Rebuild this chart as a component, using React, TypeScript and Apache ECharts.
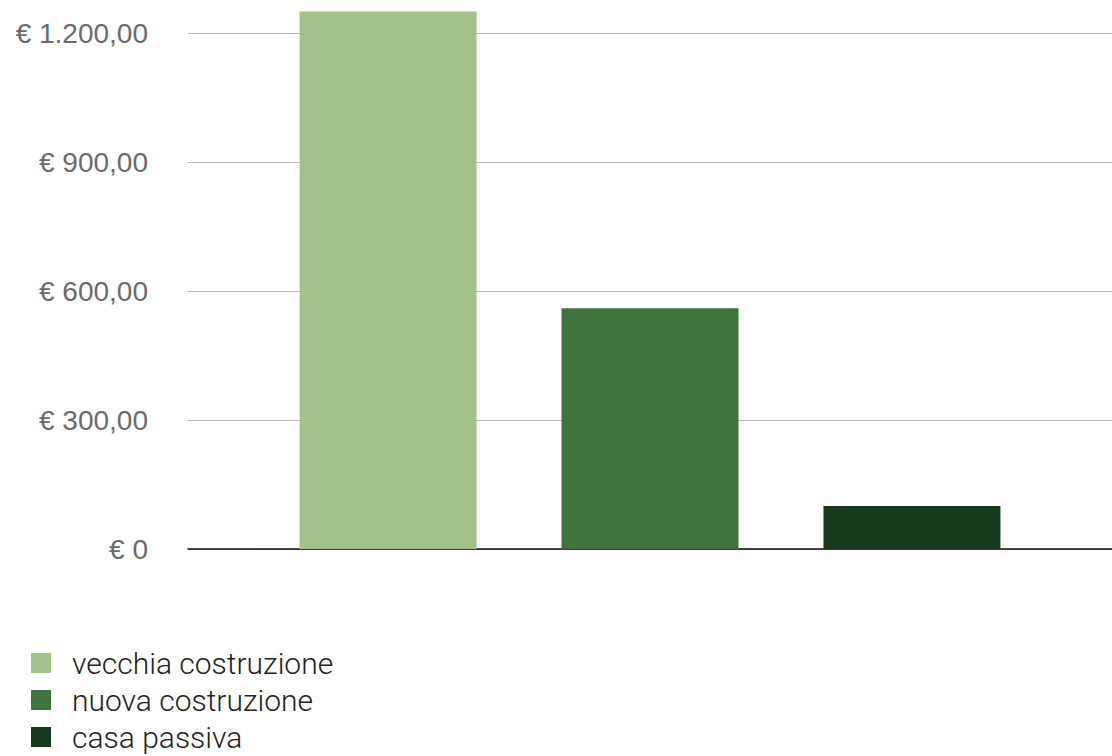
import React, { useEffect, useRef } from "react";
import * as echarts from "echarts";

const seriesNames = ["vecchia costruzione", "nuova costruzione", "casa passiva"];
const seriesValues = [1250, 560, 100];
const seriesColors = ["#a2c28a", "#3f753d", "#163a1e"];
const tickValues = [0, 300, 600, 900, 1200];

function formatEuro(v: number): string {
  if (v === 0) return "€ 0";
  const intPart = Math.floor(v).toString().replace(/\B(?=(\d{3})+(?!\d))/g, ".");
  return "€ " + intPart + ",00";
}

export default function App() {
  const ref = useRef<HTMLDivElement>(null);
  useEffect(() => {
    if (!ref.current) return;
    const chart = echarts.init(ref.current, undefined, { renderer: "svg" });
    chart.setOption({
      animation: false,
      backgroundColor: "#ffffff",
      grid: { left: 188, top: 33, width: 924, height: 516, containLabel: false },
      legend: {
        orient: "vertical",
        left: 31,
        top: 648,
        height: 200,
        padding: 0,
        itemWidth: 20,
        itemHeight: 20,
        itemGap: 7,
        icon: "rect",
        data: seriesNames.map((n, i) => ({ name: n, itemStyle: { color: seriesColors[i] } })),
        textStyle: {
          fontFamily: "Roboto",
          fontWeight: 300,
          fontSize: 30,
          color: "#222222",
          padding: [0, 0, 0, 16],
        },
      },
      xAxis: {
        type: "category",
        data: [""],
        axisLine: { show: true, lineStyle: { color: "#111111", width: 1.5 } },
        axisTick: { show: false },
        axisLabel: { show: false },
      },
      yAxis: {
        type: "value",
        min: tickValues[0],
        max: tickValues[tickValues.length - 1],
        interval: 300,
        axisLine: { show: false },
        axisTick: { show: false },
        splitLine: { lineStyle: { color: "#b8b8b8", width: 1 } },
        axisLabel: {
          margin: 40,
          fontFamily: "Liberation Sans",
          fontSize: 28,
          color: "#6b6b6b",
          formatter: (v: number) => formatEuro(v),
        },
      },
      series: seriesNames.map((n, i) => ({
        name: n,
        type: "bar",
        data: [seriesValues[i]],
        barWidth: 177,
        barGap: "48%",
        clip: false,
        itemStyle: { color: seriesColors[i] },
      })),
    });
    return () => chart.dispose();
  }, []);
  return (
    <div
      ref={ref}
      style={{ position: "fixed", left: 0, top: 0, width: 1112, height: 756 }}
    />
  );
}
